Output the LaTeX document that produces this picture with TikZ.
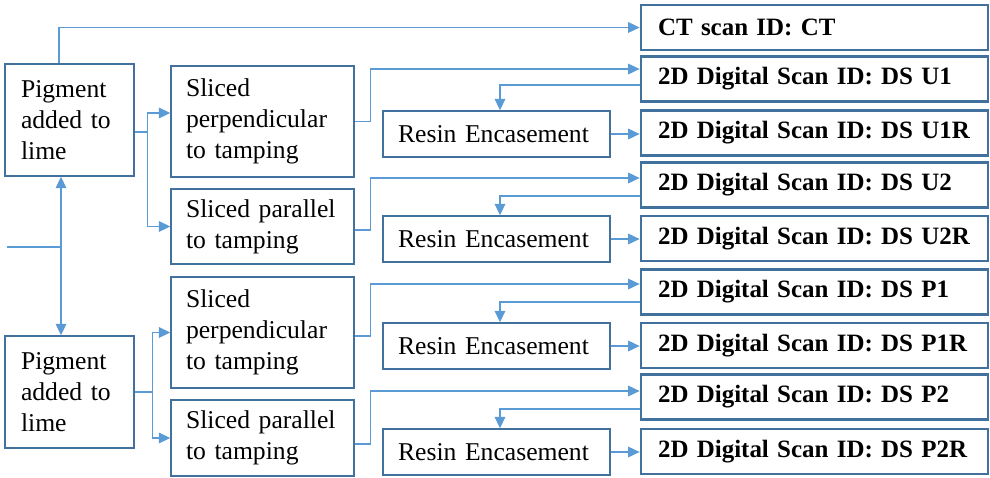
\documentclass[tikz,border=0pt]{standalone}
\usepackage{fontspec}
\setmainfont{Liberation Serif}
\usetikzlibrary{arrows.meta}
\definecolor{linkblue}{HTML}{5B9BD5}
\definecolor{boxblue}{HTML}{41719C}
\tikzset{
  box/.style={draw=boxblue, line width=0.8pt, inner xsep=0.3cm, inner ysep=0pt,
    align=left, font=\fontsize{14.6pt}{17.6pt}\selectfont},
  pigbox/.style={box, inner xsep=0.32cm, text width=1.94cm, minimum height=2.24cm},
  slicebox/.style={box, text width=3.06cm, minimum height=#1},
  resinbox/.style={box, text width=3.94cm, minimum height=0.92cm},
  idbox/.style={box, line width=1.6pt, inner xsep=0.34cm, text width=6.26cm, minimum height=0.9cm,
    font=\fontsize{14.2pt}{17pt}\selectfont\bfseries},
  link/.style={draw=linkblue, line width=0.8pt}
}
\begin{document}
\begin{tikzpicture}[x=0.02cm, y=-0.02cm, >={Triangle[length=6.5pt,width=6pt]}]
        \useasboundingbox (0,0) rectangle (990,477);

        % Mixes
        \node[pigbox] (pig1) at (69.5,120) {Pigment\\added to\\lime};
        \node[pigbox] (pig2) at (69.5,392) {Pigment\\added to\\lime};

        % Slices
        \node[slicebox=2.22cm] (sp1) at (262.5,121.5) {Sliced\\perpendicular\\to tamping};
        \node[slicebox=1.5cm]  (sl1) at (262.5,226.5) {Sliced~parallel\\to tamping};
        \node[slicebox=2.22cm] (sp2) at (262.5,332.5) {Sliced\\perpendicular\\to tamping};
        \node[slicebox=1.52cm] (sl2) at (262.5,438) {Sliced~parallel\\to tamping};

        % Resin
        \node[resinbox] (r1) at (496.5,134) {Resin Encasement};
        \node[resinbox] (r2) at (496.5,239) {Resin Encasement};
        \node[resinbox] (r3) at (496.5,346) {Resin Encasement};
        \node[resinbox] (r4) at (496.5,452) {Resin Encasement};

        % Scan IDs
        \node[idbox] (ct)  at (814.5,27.5)  {CT scan ID: CT};
        \node[idbox] (u1)  at (814.5,79)    {2D Digital Scan ID: DS~U1};
        \node[idbox] (u1r) at (814.5,133)   {2D Digital Scan ID: DS~U1R};
        \node[idbox] (u2)  at (814.5,185)   {2D Digital Scan ID: DS~U2};
        \node[idbox] (u2r) at (814.5,238.5) {2D Digital Scan ID: DS~U2R};
        \node[idbox] (p1)  at (814.5,292)   {2D Digital Scan ID: DS~P1};
        \node[idbox] (p1r) at (814.5,345.5) {2D Digital Scan ID: DS~P1R};
        \node[idbox] (p2)  at (814.5,397)   {2D Digital Scan ID: DS~P2};
        \node[idbox] (p2r) at (814.5,451.5) {2D Digital Scan ID: DS~P2R};

        % Input
        \coordinate (src) at (7,247);
        \draw[link] (src) -- ++(54,0);
        \draw[link,<->] ([xshift=-0.17cm]pig1.south) -- ([xshift=-0.17cm]pig2.north);

        % CT scan
        \draw[link,->] ([xshift=-0.21cm]pig1.north) |- (ct.west);

        % Mixes to slices
        \draw[link] ([yshift=-0.24cm]pig1.east) -- ++(13,0) coordinate (fork1);
        \draw[link,->] (fork1) |- ([yshift=0.17cm]sp1.west);
        \draw[link,->] (fork1) |- (sl1.west);
        \draw[link] (pig2.east) -- ++(18,0) coordinate (fork2);
        \draw[link,->] (fork2) |- (sp2.west);
        \draw[link,->] (fork2) |- (sl2.west);

        % Slices to scans
        \draw[link,->] (sp1.east) -- ++(16,0) |- ([yshift=0.2cm]u1.west);
        \draw[link,->] ([yshift=-0.12cm]u1.west) -| ([xshift=0.07cm]r1.north);
        \draw[link,->] (r1.east) -- (r1.east -| u1r.west);

        \draw[link,->] ([yshift=-0.07cm]sl1.east) -- ++(16,0) |- ([yshift=0.14cm]u2.west);
        \draw[link,->] ([yshift=-0.22cm]u2.west) -| ([xshift=0.07cm]r2.north);
        \draw[link,->] (r2.east) -- (r2.east -| u2r.west);

        \draw[link,->] ([yshift=-0.07cm]sp2.east) -- ++(16,0) |- ([yshift=0.16cm]p1.west);
        \draw[link,->] ([yshift=-0.2cm]p1.west) -| ([xshift=0.07cm]r3.north);
        \draw[link,->] (r3.east) -- (r3.east -| p1r.west);

        \draw[link,->] ([yshift=-0.12cm]sl2.east) -- ++(16,0) |- ([yshift=0.12cm]p2.west);
        \draw[link,->] ([yshift=-0.24cm]p2.west) -| ([xshift=0.07cm]r4.north);
        \draw[link,->] (r4.east) -- (r4.east -| p2r.west);
      \end{tikzpicture}
\end{document}
